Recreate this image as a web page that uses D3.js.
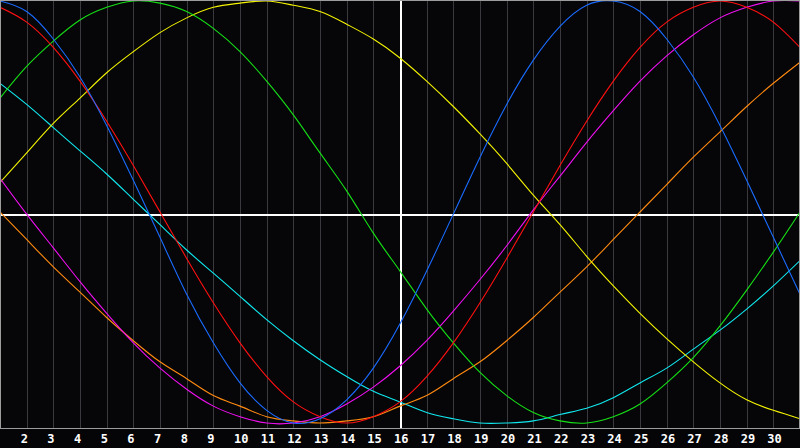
<!DOCTYPE html>
<html>
<head>
<meta charset="utf-8">
<script src="https://cdn.jsdelivr.net/npm/d3@7"></script>
<style>
  html, body { margin: 0; padding: 0; background: #050508; overflow: hidden; }
  svg { display: block; }
</style>
</head>
<body>
<svg id="chart"></svg>
<script>
// days shown on the chart (day 1 is the left edge, 31 the right edge)
const days = d3.range(1, 32);
const tickDays = d3.range(2, 31);

// cycle values per day, -100..100
const physical = [100, 95, 82, 64, 41, 15, -12, -39, -62, -81, -94, -100, -98, -89, -74, -53, -28, -1, 26, 51, 72, 88, 98, 100, 95, 82, 64, 41, 15, -12, -39];
const emotional = [97, 90, 78, 62, 43, 22, 0, -22, -43, -62, -78, -90, -97, -100, -97, -90, -78, -62, -43, -22, 0, 22, 43, 62, 78, 90, 97, 100, 97, 90, 78];
const intellectual = [54, 69, 81, 91, 97, 100, 99, 95, 87, 76, 62, 46, 28, 10, -10, -28, -46, -62, -76, -87, -95, -99, -100, -97, -91, -81, -69, -54, -37, -19, 0];
const intuitive = [16, -1, -17, -33, -48, -62, -74, -84, -92, -97, -100, -100, -97, -91, -83, -73, -61, -47, -32, -16, 1, 17, 33, 48, 62, 74, 84, 92, 97, 100, 100];
const aesthetic = [14, 28, 42, 54, 66, 76, 85, 92, 97, 99, 100, 98, 95, 89, 82, 73, 62, 50, 37, 23, 8, -6, -21, -35, -48, -60, -71, -81, -89, -94, -98];
const awareness = [0, -13, -26, -38, -50, -61, -71, -79, -87, -92, -97, -99, -100, -99, -97, -92, -87, -79, -71, -61, -50, -38, -26, -13, 0, 13, 26, 38, 50, 61, 71];
const spiritual = [61, 51, 40, 29, 18, 6, -6, -18, -29, -40, -51, -61, -70, -78, -85, -90, -95, -98, -100, -100, -99, -96, -93, -88, -81, -74, -65, -56, -46, -35, -23];

const series = [
  { values: spiritual, color: '#10e8ee' },
  { values: awareness, color: '#ff8a10' },
  { values: aesthetic, color: '#f4f400' },
  { values: intuitive, color: '#f010f0' },
  { values: intellectual, color: '#16e016' },
  { values: emotional, color: '#ff1010' },
  { values: physical, color: '#1a6cff' }
];

const w = 800;
const h = 448;
const plotH = 428;

const svg = d3.select('#chart')
  .attr('width', w)
  .attr('height', h);

// scales
const xScale = d3.scaleLinear()
  .domain([1, 31])
  .range([0, w]);

const yScale = d3.scaleLinear()
  .domain([-100, 100])
  .range([423, 1]);

// background of plot
svg.append('rect')
  .attr('x', 0)
  .attr('y', 0)
  .attr('width', w)
  .attr('height', plotH)
  .attr('fill', '#060609');

// day axis with grid lines going up
const xAxis = d3.axisBottom(xScale)
  .tickValues(tickDays)
  .tickSizeInner(-plotH)
  .tickSizeOuter(0)
  .tickFormat(d3.format('d'));

const axisG = svg.append('g')
  .attr('transform', `translate(0,${plotH})`)
  .call(xAxis);

axisG.select('.domain').remove();

axisG.selectAll('.tick line')
  .attr('stroke', d => d === 16 ? '#ffffff' : '#3a3a3e')
  .attr('stroke-width', d => d === 16 ? 2 : 1)
  .attr('shape-rendering', 'crispEdges');

axisG.selectAll('.tick text')
  .attr('x', -6.5)
  .attr('y', 15)
  .attr('dy', 0)
  .attr('text-anchor', 'start')
  .attr('fill', '#ffffff')
  .style('font-family', '"DejaVu Sans Mono", monospace')
  .style('font-weight', 'bold')
  .style('font-size', '12px');

// middle line
svg.append('line')
  .attr('x1', 0)
  .attr('x2', w)
  .attr('y1', 215)
  .attr('y2', 215)
  .attr('stroke', '#ffffff')
  .attr('stroke-width', 2)
  .attr('shape-rendering', 'crispEdges');

// curves
const line = d3.line()
  .x((d, i) => xScale(days[i]))
  .y(d => yScale(d))
  .curve(d3.curveNatural);

svg.append('g')
  .selectAll('path')
  .data(series)
  .enter()
  .append('path')
  .attr('d', d => line(d.values))
  .attr('fill', 'none')
  .attr('stroke', d => d.color)
  .attr('stroke-width', 1.1);

// frame
svg.append('rect')
  .attr('x', 0.5)
  .attr('y', 0.5)
  .attr('width', w - 1)
  .attr('height', plotH - 0.5)
  .attr('fill', 'none')
  .attr('stroke', '#9c9c9c')
  .attr('stroke-width', 1)
  .attr('shape-rendering', 'crispEdges');
</script>
</body>
</html>
